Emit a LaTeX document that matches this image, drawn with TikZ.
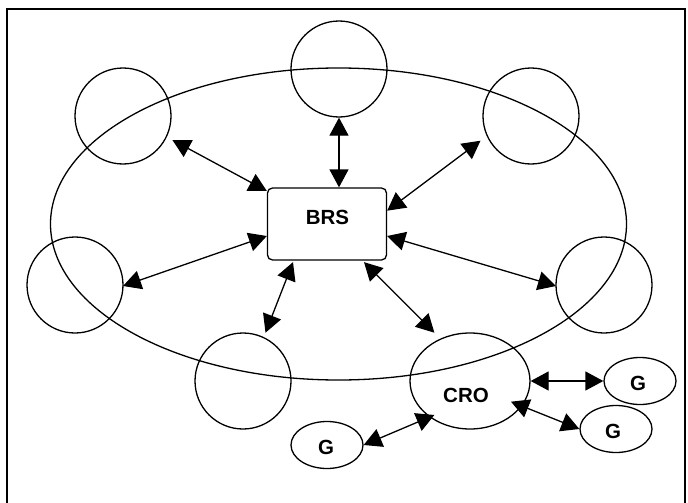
\documentclass[tikz,border=0pt]{standalone}
\usepackage{fontspec}
\setmainfont{Liberation Sans}
\usetikzlibrary{arrows.meta,shapes.geometric}
\begin{document}
\begin{tikzpicture}[x=1pt,y=-1pt,
  thin/.style={line width=1.3pt},
  member/.style={thin,draw,circle,minimum size=96pt,inner sep=0pt},
  gnode/.style={thin,draw,ellipse,minimum width=72pt,minimum height=47pt,inner sep=0pt},
  lbl/.style={font=\fontsize{20.5}{24}\selectfont\bfseries},
  link/.style={thin,{Triangle[length=18pt,width=19pt]}-{Triangle[length=18pt,width=19pt]}}]
\useasboundingbox (0,0) rectangle (688,503);
\fill[white] (0,0) rectangle (688,503);
\draw[line width=2.2pt] (7,520) -- (7,9) -- (685,9) -- (685,520);
% big ring
\node[thin,draw,ellipse,minimum width=576pt,minimum height=312pt,inner sep=0pt] (ring) at (338.5,224) {};
% members
\node[member] (top) at (339,69) {};
\node[member] (tl) at (123,116) {};
\node[member] (tr) at (531,116) {};
\node[member] (lf) at (75,285) {};
\node[member] (rt) at (604,285) {};
\node[member] (bl) at (243,381) {};
\node[thin,draw,ellipse,minimum width=120pt,minimum height=96pt,inner sep=0pt] (cro) at (470,381) {};
\node[lbl] (crot) at (466,395) {CRO};
\node[gnode] (g1) at (640,381) {};
\node[lbl] at (638,383) {G};
\node[gnode] (g2) at (616,429) {};
\node[lbl] at (613,431) {G};
\node[gnode] (g3) at (327,445) {};
\node[lbl] at (326,447.5) {G};
% BRS
\node[thin,draw,rounded corners=5pt,minimum width=119pt,minimum height=72pt,inner sep=0pt] (brs) at (327,224) {};
\node[lbl] at (327.5,217.5) {BRS};
% links
\draw[link] (top.south) -- (top.south |- brs.north);
\draw[link] ([shift={(49.4pt,-24pt)}]tl.center) -- ([yshift=33pt]brs.west);
\draw[link] ([shift={(-50.5pt,-24.7pt)}]tr.center) -- ([yshift=13.3pt]brs.east);
\draw[link] ([shift={(48pt,-1pt)}]lf.center) -- ([yshift=-12pt]brs.west);
\draw[link] ([shift={(-48pt,-1pt)}]rt.center) -- ([yshift=-12pt]brs.east);
\draw[link] ([shift={(22.5pt,48.3pt)}]bl.center) -- ([xshift=-34pt,yshift=-1.5pt]brs.south);
\draw[link] ([shift={(-35.6pt,48.3pt)}]cro.center) -- ([xshift=37pt,yshift=-1.5pt]brs.south);
\draw[link] (cro.east) -- (g1.west);
\draw[link] ([shift={(41pt,-20.7pt)}]cro.center) -- (g2.west);
\draw[link] (g3.east) -- ([shift={(-35.6pt,-34pt)}]cro.center);
\end{tikzpicture}
\end{document}
